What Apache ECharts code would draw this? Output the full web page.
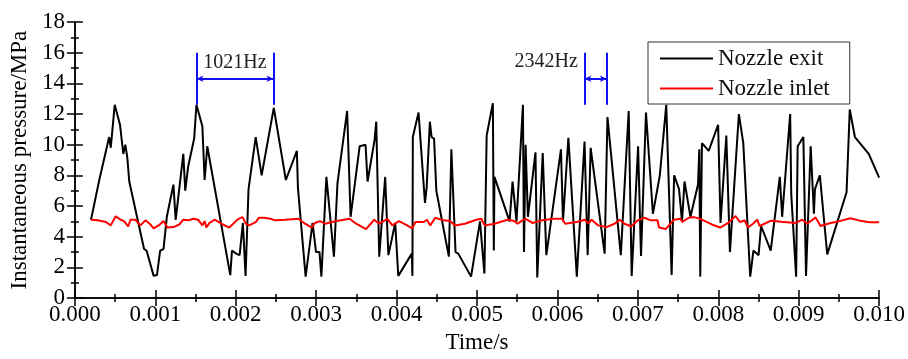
<!DOCTYPE html>
<html>
<head>
<meta charset="utf-8">
<script src="https://cdn.jsdelivr.net/npm/echarts@6/dist/echarts.min.js"></script>
<style>
  html, body { margin: 0; padding: 0; background: #fff; }
  #chart { width: 908px; height: 359px; }
</style>
</head>
<body>
<div id="chart"></div>
<script>
// time in ms (axis labels are shown in seconds), pressure in MPa
const exitTimeMs = [
  0.200, 0.303, 0.426, 0.446, 0.495, 0.561, 0.602, 0.627, 0.651, 0.676,
  0.860, 0.891, 0.979, 1.020, 1.060, 1.102, 1.143, 1.225, 1.253, 1.348,
  1.372, 1.409, 1.483, 1.511, 1.585, 1.613, 1.646, 1.932, 1.953, 2.006,
  2.048, 2.089, 2.122, 2.159, 2.248, 2.322, 2.473, 2.623, 2.760, 2.773,
  2.869, 2.955, 2.998, 3.041, 3.065, 3.127, 3.221, 3.265, 3.385, 3.428,
  3.541, 3.614, 3.639, 3.726, 3.747, 3.784, 3.858, 3.898, 3.983, 4.021,
  4.189, 4.197, 4.202, 4.273, 4.353, 4.374, 4.394, 4.414, 4.435, 4.466,
  4.494, 4.650, 4.681, 4.733, 4.767, 4.926, 5.037, 5.092, 5.120, 5.197,
  5.209, 5.217, 5.405, 5.442, 5.491, 5.571, 5.584, 5.604, 5.633, 5.727,
  5.749, 5.817, 5.862, 6.044, 6.069, 6.136, 6.241, 6.337, 6.376, 6.413,
  6.587, 6.622, 6.788, 6.886, 6.923, 7.003, 7.039, 7.101, 7.187, 7.273,
  7.353, 7.420, 7.451, 7.512, 7.549, 7.580, 7.654, 7.748, 7.764, 7.776,
  7.797, 7.881, 7.998, 8.028, 8.100, 8.145, 8.256, 8.311, 8.397, 8.437,
  8.501, 8.532, 8.652, 8.765, 8.794, 8.894, 8.907, 8.968, 8.987, 9.058,
  9.091, 9.149, 9.189, 9.202, 9.263, 9.355, 9.595, 9.635, 9.699, 9.871,
  10.000
];
const exitPressure = [
  5.1, 7.7, 10.5, 9.8, 12.6, 11.3, 9.4, 10.0, 9.2, 7.6,
  3.2, 3.1, 1.45, 1.5, 3.1, 3.2, 5.3, 7.4, 5.1, 9.4,
  7.0, 8.6, 10.4, 12.6, 11.2, 7.7, 9.9, 1.5, 3.1, 2.9,
  2.8, 4.9, 1.45, 7.1, 10.5, 8.0, 12.4, 7.7, 9.6, 7.2,
  1.4, 4.9, 3.0, 3.0, 1.4, 7.9, 2.7, 7.5, 12.2, 5.3,
  9.9, 10.0, 7.6, 10.3, 11.5, 2.7, 7.9, 2.8, 4.9, 1.45,
  2.9, 1.45, 10.5, 12.1, 6.2, 7.2, 7.1, 11.5, 10.5, 10.4,
  7.0, 2.7, 9.7, 3.0, 2.9, 1.4, 5.0, 1.6, 10.6, 12.7,
  3.1, 7.9, 5.0, 7.6, 5.0, 12.6, 3.0, 10.0, 5.3, 9.5,
  1.35, 9.45, 2.8, 9.7, 5.0, 10.45, 1.4, 10.2, 2.8, 9.8,
  2.9, 11.8, 2.8, 12.2, 1.45, 9.9, 2.75, 12.1, 5.5, 8.0,
  12.6, 1.5, 8.0, 7.1, 5.0, 7.6, 5.3, 7.4, 9.7, 1.4,
  10.1, 9.6, 11.3, 4.9, 10.6, 3.0, 12.0, 10.1, 1.4, 3.1,
  2.8, 4.7, 3.1, 7.9, 5.3, 12.0, 6.8, 1.4, 9.9, 10.5,
  1.45, 9.9, 5.5, 7.1, 8.0, 2.85, 6.9, 12.3, 10.5, 9.4,
  7.85
];

const inletTimeMs = [
  0.200, 0.283, 0.385, 0.446, 0.507, 0.569, 0.611, 0.663, 0.692, 0.753,
  0.815, 0.876, 0.930, 0.979, 1.041, 1.102, 1.151, 1.225, 1.299, 1.348,
  1.409, 1.471, 1.532, 1.585, 1.613, 1.634, 1.674, 1.736, 1.839, 1.920,
  2.002, 2.036, 2.085, 2.125, 2.166, 2.248, 2.289, 2.350, 2.432, 2.494,
  2.617, 2.780, 2.862, 2.945, 2.985, 3.047, 3.108, 3.252, 3.415, 3.498,
  3.620, 3.722, 3.784, 3.886, 3.947, 4.029, 4.131, 4.193, 4.235, 4.337,
  4.377, 4.419, 4.480, 4.582, 4.665, 4.726, 4.849, 4.991, 5.053, 5.095,
  5.217, 5.381, 5.463, 5.504, 5.565, 5.606, 5.688, 5.811, 5.955, 6.057,
  6.097, 6.241, 6.343, 6.385, 6.425, 6.507, 6.609, 6.711, 6.773, 6.834,
  6.916, 6.999, 7.080, 7.162, 7.244, 7.264, 7.346, 7.448, 7.531, 7.552,
  7.633, 7.694, 7.776, 7.920, 8.022, 8.124, 8.215, 8.268, 8.329, 8.370,
  8.431, 8.485, 8.514, 8.657, 8.780, 8.964, 9.045, 9.107, 9.210, 9.272,
  9.395, 9.496, 9.640, 9.763, 9.886, 10.000
];
const inletPressure = [
  5.1, 5.07, 4.96, 4.74, 5.33, 5.11, 5.02, 4.67, 5.11, 5.11,
  4.74, 5.07, 4.85, 4.55, 4.74, 5.02, 4.6, 4.63, 4.8, 5.11,
  5.07, 5.17, 5.11, 4.74, 5.02, 4.6, 4.9, 5.11, 4.8, 4.6,
  5.02, 5.17, 5.28, 4.85, 4.74, 4.96, 5.24, 5.24, 5.17, 5.07,
  5.11, 5.17, 4.85, 4.6, 4.9, 5.02, 4.85, 5.02, 5.17, 4.85,
  4.5, 5.11, 4.85, 5.17, 4.74, 5.02, 4.74, 4.55, 4.96, 4.96,
  5.11, 4.74, 5.24, 5.07, 5.02, 4.74, 4.85, 5.11, 5.17, 4.74,
  4.85, 5.11, 5.02, 4.85, 5.07, 5.17, 4.9, 5.07, 5.17, 5.17,
  4.85, 4.96, 5.11, 4.85, 5.11, 4.74, 4.63, 4.85, 5.11, 4.85,
  4.67, 5.07, 5.24, 5.07, 5.07, 4.6, 4.5, 5.11, 5.17, 4.96,
  5.24, 5.28, 5.17, 4.8, 4.6, 4.9, 5.35, 4.96, 5.06, 4.6,
  4.85, 5.11, 4.7, 5.05, 4.98, 4.9, 5.11, 4.85, 5.26, 4.7,
  4.9, 5.0, 5.2, 5.05, 4.95, 4.95
];

// period markers: label, start/end time (ms)
const periodLabels = ["1021Hz", "2342Hz"];
const periodStartMs = [1.511, 6.335];
const periodEndMs = [2.469, 6.615];
const periodLabelAt = [[1.99, 15.35], [5.86, 15.4]];
const markerLow = 12.6, markerHigh = 16.0, arrowLevel = 14.3;

const xTicks = [0, 1, 2, 3, 4, 5, 6, 7, 8, 9, 10];
const yTicks = [0, 2, 4, 6, 8, 10, 12, 14, 16, 18];

const FONT = "'Liberation Serif', 'Times New Roman', serif";
const BLUE = "#1010f0";

const pairs = (xs, ys) => xs.map((x, i) => [x, ys[i]]);

const markLines = [];
periodLabels.forEach((_, i) => {
  markLines.push([{ coord: [periodStartMs[i], markerLow] }, { coord: [periodStartMs[i], markerHigh] }]);
  markLines.push([{ coord: [periodEndMs[i], markerLow] }, { coord: [periodEndMs[i], markerHigh] }]);
  markLines.push([
    { coord: [periodStartMs[i], arrowLevel], symbol: "arrow" },
    { coord: [periodEndMs[i], arrowLevel], symbol: "arrow" },
  ]);
});

const axisLineStyle = { lineStyle: { color: "#000", width: 1.5 } };

const xBase = {
  type: "value",
  min: xTicks[0],
  max: xTicks[xTicks.length - 1],
  interval: 1,
  axisLine: axisLineStyle,
  axisTick: { inside: true, length: 8, lineStyle: { color: "#000", width: 1.5 } },
  minorTick: { show: true, splitNumber: 2, length: 4, lineStyle: { color: "#000", width: 1.5 } },
  splitLine: { show: false },
};
const yBase = {
  type: "value",
  min: yTicks[0],
  max: yTicks[yTicks.length - 1],
  interval: 2,
  axisLine: axisLineStyle,
  axisTick: { inside: true, length: 8, lineStyle: { color: "#000", width: 1.5 } },
  minorTick: { show: true, splitNumber: 2, length: 4, lineStyle: { color: "#000", width: 1.5 } },
  splitLine: { show: false },
};

const chart = echarts.init(document.getElementById("chart"));

const option = {
  animation: false,
  backgroundColor: "#fff",
  grid: { left: 72, right: 22, top: 22, bottom: 60 },
  legend: {
    orient: "vertical",
    left: 648,
    top: 42,
    padding: [5, 20, 4, 12],
    itemGap: 7,
    icon: "rect",
    itemWidth: 53,
    itemHeight: 2,
    borderColor: "#333",
    borderWidth: 1,
    textStyle: { fontFamily: FONT, fontSize: 23, color: "#111" },
    data: ["Nozzle exit", "Nozzle inlet"],
  },
  xAxis: [
    {
      ...xBase,
      position: "bottom",
      name: "Time/s",
      nameLocation: "middle",
      nameGap: 32,
      nameTextStyle: { fontFamily: FONT, fontSize: 23, color: "#000" },
      axisLabel: {
        fontFamily: FONT, fontSize: 23, color: "#000", margin: 5,
        formatter: v => (v / 1000).toFixed(3),
      },
    },
    { ...xBase, position: "top", axisLabel: { show: false } },
  ],
  yAxis: [
    {
      ...yBase,
      position: "left",
      name: "Instantaneous pressure/MPa",
      nameLocation: "middle",
      nameGap: 42,
      nameTextStyle: { fontFamily: FONT, fontSize: 23, color: "#000" },
      axisLabel: { fontFamily: FONT, fontSize: 23, color: "#000", margin: 10 },
    },
    { ...yBase, position: "right", axisLabel: { show: false } },
  ],
  series: [
    {
      name: "Nozzle exit",
      type: "line",
      symbol: "none",
      lineStyle: { color: "#000", width: 2 },
      itemStyle: { color: "#000" },
      data: pairs(exitTimeMs, exitPressure),
    },
    {
      name: "Nozzle inlet",
      type: "line",
      symbol: "none",
      lineStyle: { color: "#ff0000", width: 2 },
      itemStyle: { color: "#ff0000" },
      data: pairs(inletTimeMs, inletPressure),
    },
    {
      name: "markers",
      type: "line",
      data: [],
      markLine: {
        silent: true,
        symbol: ["none", "none"],
        symbolSize: [5, 7],
        label: { show: false },
        lineStyle: { color: BLUE, width: 2, type: "solid" },
        data: markLines,
      },
      markPoint: {
        silent: true,
        symbol: "circle",
        symbolSize: 0,
        label: {
          show: true,
          position: "inside",
          fontFamily: FONT,
          fontSize: 20,
          color: "#222",
          formatter: p => p.name,
        },
        data: periodLabels.map((t, i) => ({ name: t, coord: periodLabelAt[i] })),
      },
    },
  ],
};

chart.setOption(option);
</script>
</body>
</html>
